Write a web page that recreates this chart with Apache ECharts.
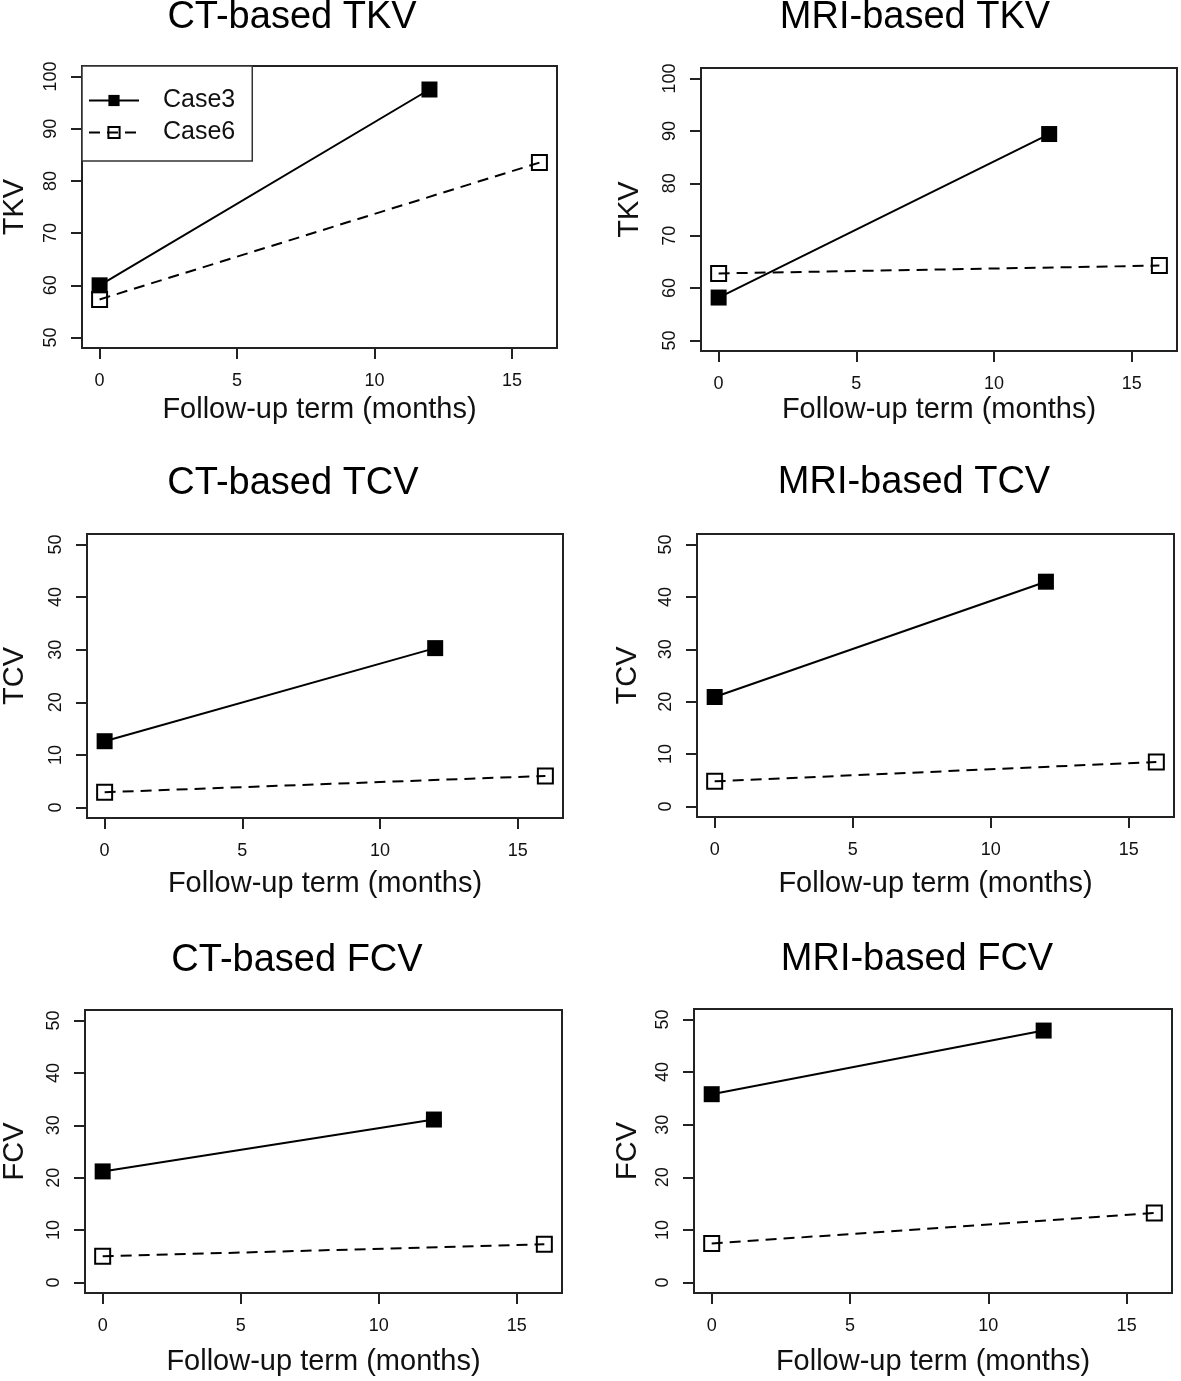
<!DOCTYPE html>
<html>
<head>
<meta charset="utf-8">
<script src="https://cdn.jsdelivr.net/npm/echarts@6/dist/echarts.min.js"></script>
<style>
html,body{margin:0;padding:0;background:#fff;}
#chart{width:1181px;height:1381px;}
</style>
</head>
<body>
<div id="chart"></div>
<script>
// ---- data ----
const seriesNames = ['Case3', 'Case6'];
const monthsCase3 = [0, 12];
const monthsCase6 = [0, 16];
const xTicks = [0, 5, 10, 15];
const tkvTicks = [50, 60, 70, 80, 90, 100];
const volTicks = [0, 10, 20, 30, 40, 50];

const ctTkvCase3 = [60.0, 97.5];
const ctTkvCase6 = [57.3, 83.5];
const mriTkvCase3 = [58.2, 89.4];
const mriTkvCase6 = [62.8, 64.3];
const ctTcvCase3 = [12.6, 30.3];
const ctTcvCase6 = [2.9, 6.0];
const mriTcvCase3 = [20.9, 42.9];
const mriTcvCase6 = [4.8, 8.5];
const ctFcvCase3 = [21.2, 31.1];
const ctFcvCase6 = [5.0, 7.3];
const mriFcvCase3 = [35.8, 47.9];
const mriFcvCase6 = [7.4, 13.2];

const panelTitles = ['CT-based TKV', 'MRI-based TKV', 'CT-based TCV', 'MRI-based TCV', 'CT-based FCV', 'MRI-based FCV'];
const yNames = ['TKV', 'TKV', 'TCV', 'TCV', 'FCV', 'FCV'];
const xName = 'Follow-up term (months)';

// ---- layout ----
const FONT = '"Liberation Sans", Arial, Helvetica, sans-serif';
const panels = [
  {c3: ctTkvCase3, c6: ctTkvCase6, ticks: tkvTicks, ymin: 48, ymax: 102, left: 82, top: 66, w: 475, h: 282, tx: 292, ty: 18, yGap: 53, xGap: 47},
  {c3: mriTkvCase3, c6: mriTkvCase6, ticks: tkvTicks, ymin: 48, ymax: 102, left: 701, top: 68, w: 476, h: 283, tx: 915, ty: 18, yGap: 57, xGap: 44},
  {c3: ctTcvCase3, c6: ctTcvCase6, ticks: volTicks, ymin: -2, ymax: 52, left: 87, top: 534, w: 476, h: 284, tx: 293, ty: 484, yGap: 58, xGap: 51},
  {c3: mriTcvCase3, c6: mriTcvCase6, ticks: volTicks, ymin: -2, ymax: 52, left: 697, top: 534, w: 477, h: 283, tx: 914, ty: 483, yGap: 55, xGap: 52},
  {c3: ctFcvCase3, c6: ctFcvCase6, ticks: volTicks, ymin: -2, ymax: 52, left: 85, top: 1010, w: 477, h: 283, tx: 297, ty: 961, yGap: 56, xGap: 54},
  {c3: mriFcvCase3, c6: mriFcvCase6, ticks: volTicks, ymin: -2, ymax: 52, left: 694, top: 1009, w: 478, h: 284, tx: 917, ty: 960, yGap: 52, xGap: 54}
];

const INK = '#111';
const grids = [], xAxes = [], yAxes = [], series = [], graphics = [];

panels.forEach((p, i) => {
  grids.push({
    left: p.left, top: p.top, width: p.w, height: p.h,
    show: true, borderColor: '#222', borderWidth: 2, backgroundColor: 'transparent',
    containLabel: false, outerBoundsMode: 'none'
  });
  xAxes.push({
    type: 'value', gridIndex: i, min: -0.64, max: 16.64, position: 'bottom',
    axisLine: {show: false, onZero: false},
    splitLine: {show: false},
    axisTick: {show: true, inside: false, length: 11, customValues: xTicks, lineStyle: {color: '#222', width: 2}},
    axisLabel: {show: true, customValues: xTicks, margin: 24, fontSize: 18, color: INK, fontFamily: FONT},
    name: xName, nameLocation: 'middle', nameGap: p.xGap, nameMoveOverlap: false,
    nameTextStyle: {fontSize: 29, color: INK, fontFamily: FONT}
  });
  yAxes.push({
    type: 'value', gridIndex: i, min: p.ymin, max: p.ymax, position: 'left',
    axisLine: {show: false, onZero: false},
    splitLine: {show: false},
    axisTick: {show: true, inside: false, length: 11, customValues: p.ticks, lineStyle: {color: '#222', width: 2}},
    axisLabel: {show: true, customValues: p.ticks, rotate: 90, margin: 22, fontSize: 18, color: INK, fontFamily: FONT},
    name: yNames[i], nameLocation: 'middle', nameGap: p.yGap, nameRotate: 90, nameMoveOverlap: false,
    nameTextStyle: {fontSize: 29, color: INK, fontFamily: FONT}
  });
  series.push({
    name: seriesNames[0], type: 'line', xAxisIndex: i, yAxisIndex: i,
    data: monthsCase3.map((m, k) => [m, p.c3[k]]),
    symbol: 'rect', symbolSize: 16,
    lineStyle: {color: '#000', width: 2, type: 'solid'},
    itemStyle: {color: '#000', borderColor: '#000', borderWidth: 0},
    emphasis: {disabled: true}, animation: false, z: 3
  });
  series.push({
    name: seriesNames[1], type: 'line', xAxisIndex: i, yAxisIndex: i,
    data: monthsCase6.map((m, k) => [m, p.c6[k]]),
    symbol: 'rect', symbolSize: 15,
    lineStyle: {color: '#000', width: 2, type: [11, 7]},
    itemStyle: {color: 'rgba(255,255,255,0)', borderColor: '#000', borderWidth: 2},
    emphasis: {disabled: true}, animation: false, z: 3
  });
  graphics.push({
    type: 'text', x: p.tx, y: p.ty,
    style: {text: panelTitles[i], fontSize: 38, fontFamily: FONT, fill: '#000', textAlign: 'center', textVerticalAlign: 'middle'}
  });
});

const chart = echarts.init(document.getElementById('chart'), null, {renderer: 'canvas'});
chart.setOption({
  backgroundColor: '#fff',
  animation: false,
  grid: grids,
  xAxis: xAxes,
  yAxis: yAxes,
  series: series,
  graphic: graphics,
  legend: {
    show: true, data: seriesNames, orient: 'vertical',
    left: 82, top: 66,
    padding: [22, 17, 16, 6], itemGap: 7,
    itemWidth: 50, itemHeight: 14,
    backgroundColor: '#fff', borderColor: '#333', borderWidth: 1.5,
    selectedMode: false, z: 10,
    textStyle: {fontSize: 25, color: INK, fontFamily: FONT, padding: [0, 0, 0, 19]}
  }
});
</script>
</body>
</html>
